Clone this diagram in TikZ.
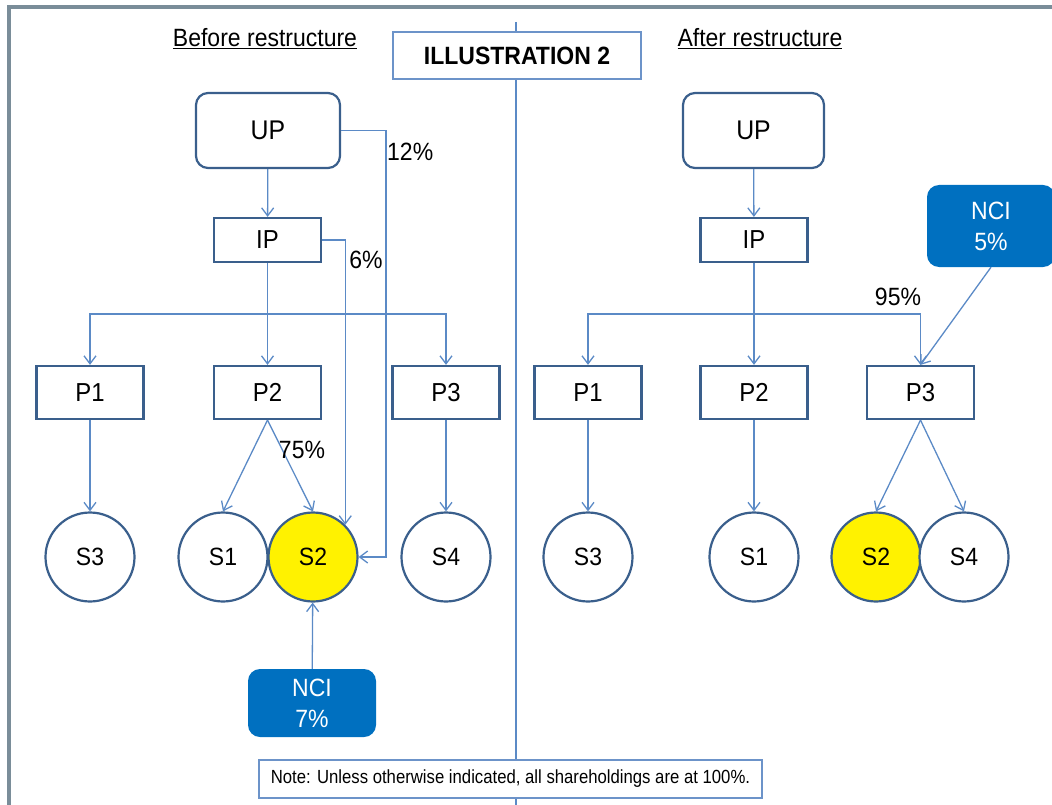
\documentclass[tikz,border=0pt]{standalone}
\usepackage{fontspec}
\setmainfont{Liberation Sans}[FakeStretch=0.92]
\newfontfamily\notefont{Liberation Sans}[FakeStretch=0.88]
\usepackage{xcolor}
\definecolor{ColLine}{RGB}{91,138,198}
\definecolor{ColBox}{RGB}{58,95,140}
\definecolor{ColThin}{RGB}{108,147,201}
\definecolor{ColNCI}{RGB}{0,112,192}
\definecolor{ColFrame}{RGB}{122,141,153}
\usepackage{tikz}
\usetikzlibrary{arrows.meta}
\tikzstyle{Txt}=[font=\fontsize{25}{31}\selectfont,inner sep=0pt]
\tikzstyle{Top}=[Txt,font=\fontsize{27}{31}\selectfont,rectangle,
rounded corners=12pt,draw=ColBox,line width=2.2pt,fill=white,
minimum width=144pt,minimum height=75pt]
\tikzstyle{Box}=[Txt,font=\fontsize{26}{31}\selectfont,rectangle,draw=ColBox,
line width=2.2pt,fill=white,minimum width=107pt]
\tikzstyle{Sub}=[Txt,circle,draw=ColBox,line width=2.2pt,fill=white,
minimum size=89pt]
\tikzstyle{NCI}=[Txt,rectangle,rounded corners=12pt,fill=ColNCI,text=white,
align=center]
\tikzstyle{Thin}=[rectangle,draw=ColThin,line width=1.6pt,fill=white]
\tikzstyle{Edge}=[draw=ColLine,line width=1.3pt]
\tikzstyle{Arr}=[Edge,-{Straight Barb[length=8pt,width=12pt,line width=1.3pt]}]

\begin{document}
\begin{tikzpicture}[x=1pt,y=-1pt]
    \useasboundingbox(0,0)rectangle(1052,805);
    % frame and divider
    \draw[ColFrame,line width=4pt](9,805)--(9,7)--(1060,7);
    \draw[Edge,line width=1.2pt](516,22)--(516,805);
    \node[Thin,minimum width=248pt,minimum height=47pt,
        font=\fontsize{25}{30}\selectfont\bfseries](ill)at(517,55.5)
        {ILLUSTRATION 2};
    \node[Txt,anchor=base](bef)at(265,47){\underline{Before restructure}};
    \node[Txt,anchor=base](aft)at(760,47){\underline{After restructure}};
    % before restructure
    \node[Top](UPl)at(268,130.5){UP};
    \node[Box,minimum height=44pt](IPl)at(267.5,240){IP};
    \node[Box,minimum height=53pt](P1l)at(90,392.5){P1};
    \node[Box,minimum height=53pt](P2l)at(267.5,392.5){P2};
    \node[Box,minimum height=53pt](P3l)at(446,392.5){P3};
    \node[Sub](S3l)at(90,557){S3};
    \node[Sub](S1l)at(223,557){S1};
    \node[Sub,fill=yellow](S2l)at(313,557){S2};
    \node[Sub](S4l)at(446,557){S4};
    \node[NCI,minimum width=128pt,minimum height=68pt](NCIl)at(312,703)
        {NCI\\7\%};
    \coordinate(bl)at(267.5,314);
    \coordinate(r12)at(386,400);
    \draw[Arr](UPl)--(IPl);
    \draw[Edge](IPl)--(bl);
    \draw[Arr](bl)--(P2l);
    \draw[Arr](bl)-|(P1l.north);
    \draw[Arr](bl)-|(P3l.north);
    \draw[Arr](UPl.east)-|(r12)|-(S2l.east);
    \draw[Arr](IPl.east)-|(S2l.45);
    \draw[Arr](P1l)--(S3l);
    \draw[Arr](P2l.south)--(S1l.north);
    \draw[Arr](P2l.south)--(S2l.north);
    \draw[Arr](P3l)--(S4l);
    \draw[Arr](NCIl)--(S2l);
    \node[Txt,anchor=west](l12)at(387,152){12\%};
    \node[Txt](l6)at(366,260){6\%};
    \node[Txt](l75)at(302,450){75\%};
    % after restructure
    \node[Top,minimum width=141pt](UPr)at(753.5,130.5){UP};
    \node[Box,minimum height=44pt](IPr)at(754,240){IP};
    \node[Box,minimum height=53pt](P1r)at(588,392.5){P1};
    \node[Box,minimum height=53pt](P2r)at(754,392.5){P2};
    \node[Box,minimum height=53pt](P3r)at(920.5,392.5){P3};
    \node[Sub](S3r)at(588,557){S3};
    \node[Sub](S1r)at(754,557){S1};
    \node[Sub,fill=yellow](S2r)at(876,557){S2};
    \node[Sub](S4r)at(964,557){S4};
    \node[NCI,minimum width=128pt,minimum height=82pt](NCIr)at(991,226)
        {NCI\\5\%};
    \coordinate(br)at(754,314);
    \draw[Arr](UPr)--(IPr);
    \draw[Arr](IPr)--(P2r);
    \draw[Arr](br)-|(P1r.north);
    \draw[Arr](br)-|(P3r.north);
    \draw[Arr](NCIr.south)--(P3r.north);
    \draw[Arr](P1r)--(S3r);
    \draw[Arr](P2r)--(S1r);
    \draw[Arr](P3r.south)--(S2r.north);
    \draw[Arr](P3r.south)--(S4r.north);
    \node[Txt](l95)at(898,297){95\%};
    % note
    \node[Thin,minimum width=503pt,minimum height=38pt,
        font=\notefont\fontsize{19}{22}\selectfont](note)at(510.5,779)
        {Note: Unless otherwise indicated, all shareholdings are at 100\%.};
\end{tikzpicture}
\end{document}
